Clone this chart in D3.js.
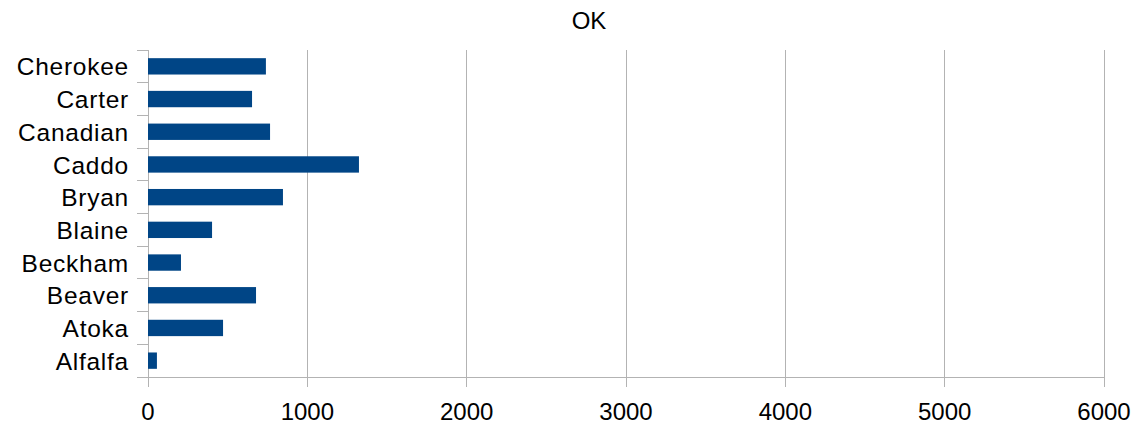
<!DOCTYPE html>
<html>
<head>
<meta charset="utf-8">
<script src="https://cdn.jsdelivr.net/npm/d3@7"></script>
<style>
  html, body { margin: 0; padding: 0; background: #fff; }
  svg { display: block; font-family: "Liberation Sans", Arial, sans-serif; }
</style>
</head>
<body>
<svg id="chart" width="1137" height="426"></svg>
<script>
const title = "OK";
const categories = ["Alfalfa", "Atoka", "Beaver", "Beckham", "Blaine", "Bryan", "Caddo", "Canadian", "Carter", "Cherokee"];
const values = [56, 471, 678, 207, 402, 847, 1324, 766, 653, 740];
const xTicks = [0, 1000, 2000, 3000, 4000, 5000, 6000];

const svg = d3.select("#chart");
const margin = { left: 148, right: 33, top: 50, bottom: 49 };
const W = 1137, H = 426;
const x = d3.scaleLinear().domain([0, 6000]).range([margin.left, W - margin.right]);
const y = d3.scaleBand().domain(categories.slice().reverse()).range([margin.top, H - margin.bottom]).paddingInner(0.5).paddingOuter(0.25);
const band = d3.scaleBand().domain(categories.slice().reverse()).range([margin.top, H - margin.bottom]);
const gridColor = "#b3b3b3";

// gridlines
svg.append("g").selectAll("line").data(xTicks).join("line")
  .attr("x1", d => x(d)).attr("x2", d => x(d))
  .attr("y1", margin.top).attr("y2", H - margin.bottom + 10)
  .attr("stroke", gridColor).attr("stroke-width", 1).attr("shape-rendering", "crispEdges");

// y axis line
svg.append("line")
  .attr("x1", x(0)).attr("x2", x(0))
  .attr("y1", margin.top).attr("y2", H - margin.bottom + 10)
  .attr("stroke", gridColor).attr("shape-rendering", "crispEdges");

// y boundary ticks
const bounds = categories.map(c => band(c)).concat([H - margin.bottom]);
svg.append("g").selectAll("line").data(bounds).join("line")
  .attr("x1", x(0) - 11).attr("x2", x(0))
  .attr("y1", d => d).attr("y2", d => d)
  .attr("stroke", gridColor).attr("shape-rendering", "crispEdges");

// x axis line
svg.append("line")
  .attr("x1", x(0) - 11).attr("x2", x(6000))
  .attr("y1", H - margin.bottom).attr("y2", H - margin.bottom)
  .attr("stroke", gridColor).attr("shape-rendering", "crispEdges");

// bars
svg.append("g").selectAll("rect").data(categories).join("rect")
  .attr("x", x(0)).attr("y", d => y(d))
  .attr("width", (d, i) => x(values[i]) - x(0))
  .attr("height", y.bandwidth())
  .attr("fill", "#004586");

// y labels
svg.append("g").selectAll("text").data(categories).join("text")
  .attr("x", 129).attr("y", d => y(d) + y.bandwidth() / 2)
  .attr("dy", "0.37em")
  .attr("text-anchor", "end")
  .attr("font-size", 24.5)
  .attr("letter-spacing", "0.75px")
  .attr("fill", "#000")
  .text(d => d);

// x labels
svg.append("g").selectAll("text").data(xTicks).join("text")
  .attr("x", d => x(d)).attr("y", 420)
  .attr("text-anchor", "middle")
  .attr("font-size", 24)
  .attr("fill", "#000")
  .text(d => d);

// title
svg.append("text")
  .attr("x", 589).attr("y", 29)
  .attr("text-anchor", "middle")
  .attr("font-size", 24)
  .attr("fill", "#000")
  .text(title);
</script>
</body>
</html>
